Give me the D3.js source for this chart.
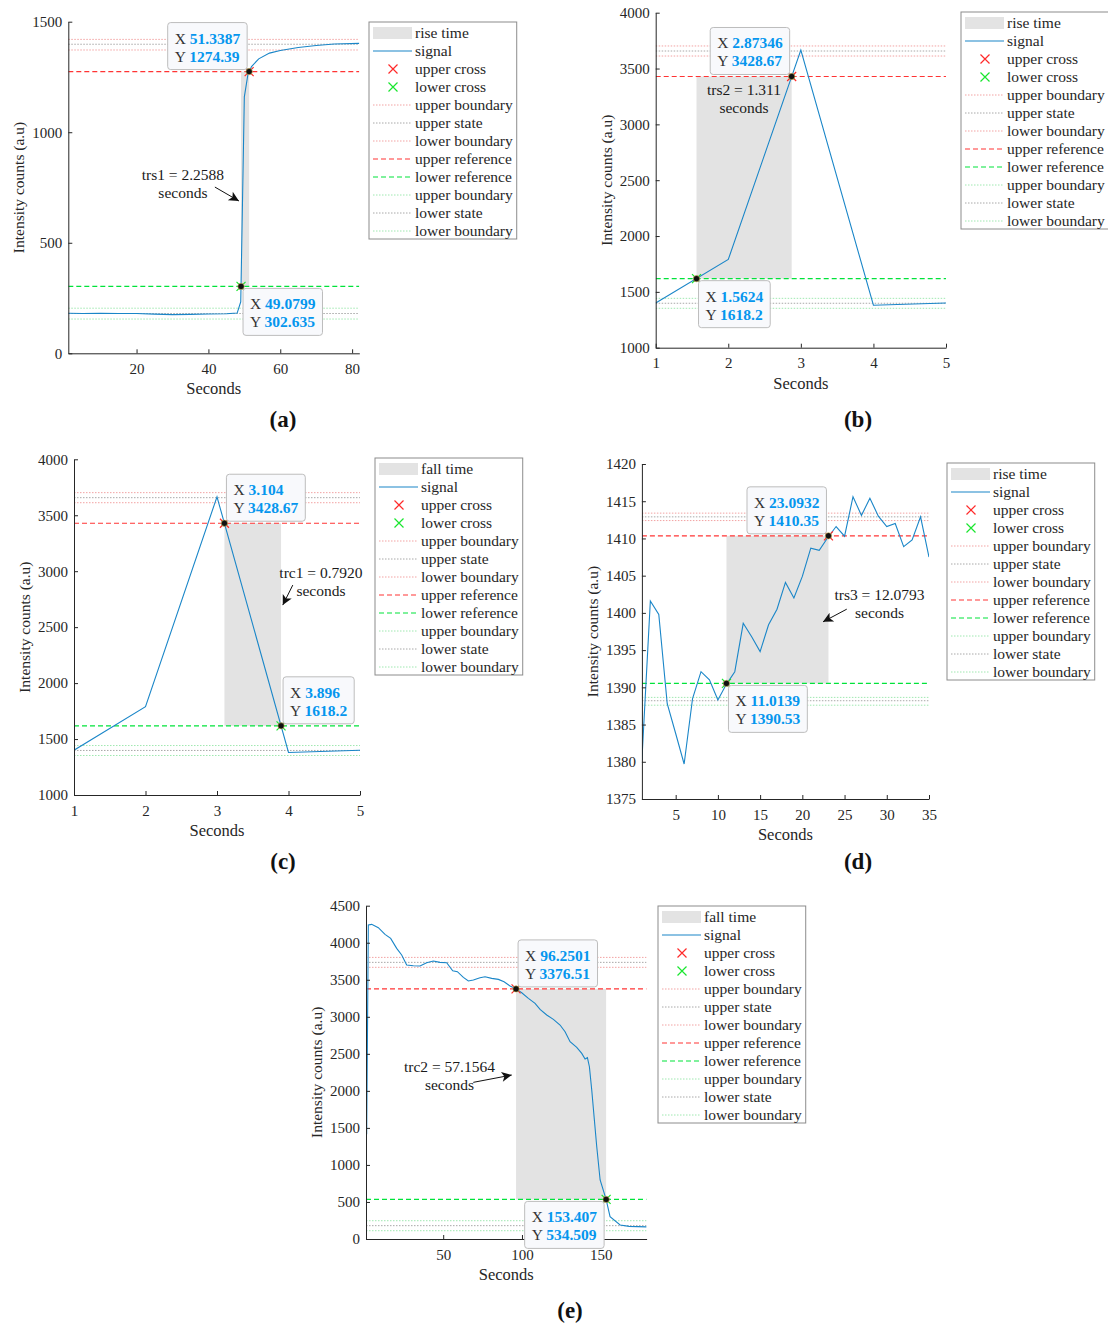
<!DOCTYPE html>
<html lang="en">
<head>
<meta charset="UTF-8">
<title>Rise and fall time</title>
<script src="https://d3js.org/d3.v7.min.js"></script>
<style>
  body { margin: 0; background: #fff; }
  svg text { font-family: "Liberation Serif", "Times New Roman", Times, serif; fill: #262626; }
  .tick text { font-size: 15px; }
  .axis-title { font-size: 16.5px; }
  .ylab { font-size: 15.5px; }
  .legend-text { font-size: 15.5px; }
  .tip { font-size: 15.5px; fill: #333; }
  .tip-val { font-weight: bold; fill: #0596ee; }
  .note { font-size: 15.5px; fill: #1a1a1a; }
  .panel-label { font-size: 23px; font-weight: bold; fill: #111; }
</style>
</head>
<body>
<div id="figure"></div>
<script>
// ---------- data ----------
// (a) rise
const aX = [1, 5, 10, 15, 20, 25, 30, 35, 40, 45, 48, 49, 50, 51, 52, 54, 57, 60, 65, 70, 75, 82];
const aY = [181, 180, 181, 180, 180, 177, 175, 176, 178, 179, 182, 233, 1160, 1262, 1297, 1332, 1358, 1370, 1383, 1392, 1399, 1402];
// (b) and (c) share one signal
const bcX = [1, 2, 3, 4, 5];
const bcY = [1400, 1790, 3665, 1380, 1400];
// (d) rise, noisy
const dX = [1, 2, 3, 4, 5, 6, 7, 8, 9, 10, 11, 12, 13, 14, 15, 16, 17, 18, 19, 20, 21, 22, 23, 24, 25, 26, 27, 28, 29, 30, 31, 32, 33, 34, 35];
const dY = [1380.2, 1401.6, 1399.8, 1387.8, 1383.8, 1379.7, 1388.5, 1392.1, 1391.0, 1388.3, 1390.4, 1392.1, 1398.6, 1396.8, 1394.8,
            1398.4, 1400.5, 1404.1, 1402.0, 1404.9, 1408.7, 1408.4, 1410.1, 1411.6, 1410.3, 1415.6, 1413.1, 1415.4, 1413.0, 1411.6,
            1412.0, 1408.9, 1409.8, 1412.9, 1407.5];
// (e) fall
const eX = [1.42, 2.48, 4.6, 8.83, 13.06, 16.66, 20.47, 23.65, 26.82, 31.05, 35.29, 39.52, 43.75, 47.98, 52.22, 56.03, 59.0,
            62.8, 65.97, 69.15, 73.38, 76.56, 80.79, 85.02, 88.62, 92.43, 96.24, 99.84, 104.07, 108.3, 111.48, 115.71, 119.94,
            124.17, 127.35, 130.53, 134.76, 137.94, 140.05, 141.53, 142.8, 144.28, 145.77, 147.46, 149.6, 153.4, 155.9, 162.3,
            168, 179.1];
const eY = [1413, 4239, 4248, 4203, 4113, 4059, 3924, 3834, 3699, 3690, 3685, 3730, 3753, 3735, 3730, 3622, 3609,
            3532, 3483, 3496, 3528, 3541, 3519, 3505, 3474, 3415, 3377, 3325, 3249, 3181, 3100, 3024, 2965,
            2889, 2799, 2664, 2587, 2506, 2430, 2448, 2326, 2011, 1651, 1246, 797, 534, 301, 189,
            170, 164];

// levels: upper boundary, upper state, lower boundary, upper reference, lower reference, upper boundary, lower state, lower boundary
const aLevels = [1420, 1398, 1372, 1274.39, 302.635, 204, 180, 155];
const bcLevels = [3702, 3657, 3612, 3428.67, 1618.2, 1442, 1398, 1353];
const dLevels = [1413.4, 1412.9, 1412.4, 1410.35, 1390.53, 1388.65, 1388.2, 1387.6];
const eLevels = [3802, 3735, 3668, 3376.51, 534.509, 247, 180, 112];

// crossings: [lower cross, upper cross]
const aCross = [[49.0799, 302.635], [51.3387, 1274.39]];
const bCross = [[1.5624, 1618.2], [2.87346, 3428.67]];
const cCross = [[3.896, 1618.2], [3.104, 3428.67]];
const dCross = [[11.0139, 1390.53], [23.0932, 1410.35]];
const eCross = [[153.407, 534.509], [96.2501, 3376.51]];

const notes = ["trs1 = 2.2588", "trs2 = 1.311", "trc1 = 0.7920", "trs3 = 12.0793", "trc2 = 57.1564"];
const legendLabels = ["signal", "upper cross", "lower cross", "upper boundary", "upper state", "lower boundary",
                      "upper reference", "lower reference", "upper boundary", "lower state", "lower boundary"];

// ---------- styles ----------
const signalColor = "#1a86c8";
const levelStyle = [
    { stroke: "#f2a3a3", dash: "1.5,1.5", w: 1 },
    { stroke: "#a8a8a8", dash: "1.5,1.5", w: 1 },
    { stroke: "#f2a3a3", dash: "1.5,1.5", w: 1 },
    { stroke: "#ff3434", dash: "5,3", w: 1.2 },
    { stroke: "#00e33a", dash: "5,3", w: 1.2 },
    { stroke: "#9fe8b0", dash: "1.5,1.5", w: 1 },
    { stroke: "#a8a8a8", dash: "1.5,1.5", w: 1 },
    { stroke: "#9fe8b0", dash: "1.5,1.5", w: 1 }
];

const panels = [
    { x: aX, y: aY, levels: aLevels, cross: aCross, kind: "rise time",
      box: { l: 68.3, r: 359.3, t: 21.7, b: 353.3 }, xDom: [1, 82], yDom: [0, 1500],
      xTicks: [20, 40, 60, 80], yTicks: [0, 500, 1000, 1500], tips: ["lr", "ul"],
      note: { text: notes[0], x: 32.9, y: 784, from: [41.8, 752], to: [48.5, 689] },
      legend: { x: 369, y: 22 }, label: { text: "(a)", x: 283, y: 427 } },
    { x: bcX, y: bcY, levels: bcLevels, cross: bCross, kind: "rise time",
      box: { l: 655.7, r: 946, t: 12.7, b: 347.7 }, xDom: [1, 5], yDom: [1000, 4000],
      xTicks: [1, 2, 3, 4, 5], yTicks: d3.range(1000, 4001, 500), tips: ["lr", "ul"],
      note: { text: notes[1], x: 2.216, y: 3267 },
      legend: { x: 961, y: 12 }, label: { text: "(b)", x: 858, y: 427 } },
    { x: bcX, y: bcY, levels: bcLevels, cross: cCross, kind: "fall time",
      box: { l: 74, r: 360, t: 459.3, b: 795 }, xDom: [1, 5], yDom: [1000, 4000],
      xTicks: [1, 2, 3, 4, 5], yTicks: d3.range(1000, 4001, 500), tips: ["ur", "ur"],
      note: { text: notes[2], x: 4.454, y: 2939, from: [4.06, 2876], to: [3.92, 2697] },
      legend: { x: 375, y: 458 }, label: { text: "(c)", x: 283, y: 869 } },
    { x: dX, y: dY, levels: dLevels, cross: dCross, kind: "rise time",
      box: { l: 641.9, r: 929, t: 464, b: 799 }, xDom: [1, 35], yDom: [1375, 1420],
      xTicks: [5, 10, 15, 20, 25, 30, 35], yTicks: d3.range(1375, 1421, 5), tips: ["lr", "ul"],
      note: { text: notes[3], x: 29.14, y: 1401.73, from: [25.26, 1400.5], to: [22.45, 1398.8] },
      legend: { x: 947, y: 463 }, label: { text: "(d)", x: 858, y: 869 } },
    { x: eX, y: eY, levels: eLevels, cross: eCross, kind: "fall time",
      box: { l: 366, r: 646.6, t: 905.7, b: 1239 }, xDom: [1, 179.1], yDom: [0, 4500],
      xTicks: [50, 100, 150], yTicks: d3.range(0, 4501, 500), tips: ["ll", "ur"],
      note: { text: notes[4], x: 54.0, y: 2255, from: [69.1, 2115], to: [93.5, 2214] },
      legend: { x: 658, y: 906 }, label: { text: "(e)", x: 570, y: 1318 } }
];

// ---------- drawing ----------
const svg = d3.select("#figure").append("svg")
    .attr("width", 1108).attr("height", 1323);

const defs = svg.append("defs");
defs.append("marker")
    .attr("id", "arrow")
    .attr("viewBox", "0 0 10 10")
    .attr("refX", 10).attr("refY", 5)
    .attr("markerUnits", "userSpaceOnUse")
    .attr("markerWidth", 12).attr("markerHeight", 10)
    .attr("orient", "auto")
    .append("path")
    .attr("d", "M0,0 L10,5 L0,10 L2.5,5 Z")
    .attr("fill", "#111");

function drawCross(g, cx, cy, color, s) {
    g.append("path")
        .attr("d", `M${cx - s},${cy - s}L${cx + s},${cy + s}M${cx - s},${cy + s}L${cx + s},${cy - s}`)
        .attr("stroke", color).attr("stroke-width", 1.2).attr("fill", "none");
}

function drawTip(g, px, py, xs, ys, dir) {
    const tg = g.append("g");
    const rect = tg.append("rect");
    const lines = [["X ", xs], ["Y ", ys]].map(([n, v]) => {
        const t = tg.append("text").attr("class", "tip");
        t.append("tspan").text(n);
        t.append("tspan").attr("class", "tip-val").text(v);
        return t;
    });
    const w = d3.max(lines, t => t.node().getComputedTextLength()) + 14;
    const h = 47;
    const left = dir[1] === "l" ? px - 2 - w : px + 2;
    const top = dir[0] === "u" ? py - 2 - h : py + 2;
    rect.attr("x", left).attr("y", top).attr("width", w).attr("height", h)
        .attr("rx", 3).attr("fill", "#f8f9fc").attr("stroke", "#bdbdbd");
    lines.forEach((t, i) => t.attr("x", left + 7).attr("y", top + 21 + i * 18));
}

panels.forEach((p, pi) => {
    const g = svg.append("g");
    const xScale = d3.scaleLinear().domain(p.xDom).range([p.box.l, p.box.r]);
    const yScale = d3.scaleLinear().domain(p.yDom).range([p.box.b, p.box.t]);

    const clipId = "clip" + pi;
    defs.append("clipPath").attr("id", clipId).append("rect")
        .attr("x", p.box.l).attr("y", p.box.t)
        .attr("width", p.box.r - p.box.l).attr("height", p.box.b - p.box.t);
    const plot = g.append("g").attr("clip-path", `url(#${clipId})`);

    const [lo, up] = p.cross;
    // shaded transition region
    plot.append("rect")
        .attr("x", xScale(Math.min(lo[0], up[0])))
        .attr("y", yScale(up[1]))
        .attr("width", Math.abs(xScale(up[0]) - xScale(lo[0])))
        .attr("height", yScale(lo[1]) - yScale(up[1]))
        .attr("fill", "#e3e3e3");

    // state / reference / boundary levels
    p.levels.forEach((v, i) => {
        plot.append("line")
            .attr("x1", p.box.l).attr("x2", p.box.r)
            .attr("y1", yScale(v)).attr("y2", yScale(v))
            .attr("stroke", levelStyle[i].stroke)
            .attr("stroke-width", levelStyle[i].w)
            .attr("stroke-dasharray", levelStyle[i].dash);
    });

    // signal
    const line = d3.line().x(d => xScale(d[0])).y(d => yScale(d[1]));
    plot.append("path")
        .datum(p.x.map((xv, i) => [xv, p.y[i]]))
        .attr("fill", "none")
        .attr("stroke", signalColor)
        .attr("stroke-width", 1.1)
        .attr("d", line);

    // axes
    const fmt = d3.format("d");
    const xAxis = d3.axisBottom(xScale).tickValues(p.xTicks).tickFormat(fmt)
        .tickSizeInner(-4).tickSizeOuter(0).tickPadding(10);
    const yAxis = d3.axisLeft(yScale).tickValues(p.yTicks).tickFormat(fmt)
        .tickSizeInner(-4).tickSizeOuter(0).tickPadding(6);
    [g.append("g").attr("transform", `translate(0,${p.box.b})`).call(xAxis),
     g.append("g").attr("transform", `translate(${p.box.l},0)`).call(yAxis)]
        .forEach(ax => {
            ax.attr("font-family", "Liberation Serif, Times New Roman, serif").attr("font-size", 15);
            ax.selectAll("path, line").attr("stroke", "#262626");
            ax.selectAll("text").attr("fill", "#262626");
        });

    g.append("text").attr("class", "axis-title")
        .attr("x", (p.box.l + p.box.r) / 2).attr("y", p.box.b + 41)
        .attr("text-anchor", "middle").text("Seconds");
    g.append("text").attr("class", "ylab")
        .attr("transform", `translate(${p.box.l - 44},${(p.box.t + p.box.b) / 2}) rotate(-90)`)
        .attr("text-anchor", "middle").text("Intensity counts (a.u)");

    // cross markers and data tips
    [lo, up].forEach((c, i) => {
        const cx = xScale(c[0]), cy = yScale(c[1]);
        drawCross(g, cx, cy, i === 0 ? "#19e62e" : "#ff2a2a", 4.5);
        g.append("circle").attr("cx", cx).attr("cy", cy).attr("r", 3.2)
            .attr("fill", "#111").attr("stroke", "#d8c060").attr("stroke-width", 0.6);
    });
    [lo, up].forEach((c, i) => {
        drawTip(g, xScale(c[0]), yScale(c[1]), String(c[0]), String(c[1]), p.tips[i]);
    });

    // annotation
    const nx = xScale(p.note.x), ny = yScale(p.note.y);
    const nt = g.append("text").attr("class", "note").attr("text-anchor", "middle");
    nt.append("tspan").attr("x", nx).attr("y", ny).text(p.note.text);
    nt.append("tspan").attr("x", nx).attr("y", ny + 18).text("seconds");
    if (p.note.from) {
        g.append("line")
            .attr("x1", xScale(p.note.from[0])).attr("y1", yScale(p.note.from[1]))
            .attr("x2", xScale(p.note.to[0])).attr("y2", yScale(p.note.to[1]))
            .attr("stroke", "#111").attr("stroke-width", 1)
            .attr("marker-end", "url(#arrow)");
    }

    // legend
    const lg = g.append("g").attr("transform", `translate(${p.legend.x},${p.legend.y})`);
    const lbox = lg.append("rect").attr("fill", "#fff").attr("stroke", "#8c8c8c");
    const rows = [p.kind].concat(legendLabels);
    let maxW = 0;
    rows.forEach((label, i) => {
        const cy = 11 + i * 18;
        if (i === 0) {
            lg.append("rect").attr("x", 4).attr("y", cy - 6).attr("width", 39).attr("height", 12).attr("fill", "#e3e3e3");
        } else if (i === 1) {
            lg.append("line").attr("x1", 4).attr("x2", 43).attr("y1", cy).attr("y2", cy)
                .attr("stroke", signalColor).attr("stroke-width", 1.1);
        } else if (i === 2 || i === 3) {
            drawCross(lg, 24, cy, i === 2 ? "#ff2a2a" : "#19e62e", 4.5);
        } else {
            const s = levelStyle[i - 4];
            lg.append("line").attr("x1", 4).attr("x2", 43).attr("y1", cy).attr("y2", cy)
                .attr("stroke", s.stroke).attr("stroke-width", s.w).attr("stroke-dasharray", s.dash);
        }
        const t = lg.append("text").attr("class", "legend-text")
            .attr("x", 46).attr("y", cy + 5).text(label);
        maxW = Math.max(maxW, t.node().getComputedTextLength());
    });
    lbox.attr("x", 0).attr("y", 0).attr("width", maxW + 50).attr("height", 11 + rows.length * 18 - 10);

    svg.append("text").attr("class", "panel-label")
        .attr("x", p.label.x).attr("y", p.label.y)
        .attr("text-anchor", "middle").text(p.label.text);
});
</script>
</body>
</html>
